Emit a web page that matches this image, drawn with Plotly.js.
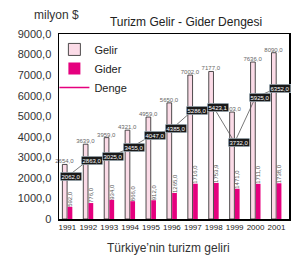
<!DOCTYPE html>
<html><head><meta charset="utf-8">
<script src="https://cdn.plot.ly/plotly-3.0.1.min.js"></script>
<style>html,body{margin:0;padding:0;background:#fff}#c{width:302px;height:266px}</style>
</head><body><div id="c"></div>
<script>
const years = ['1991','1992','1993','1994','1995','1996','1997','1998','1999','2000','2001'];
const gelir = [2654.0,3639.0,3959.0,4321.0,4959.0,5650.0,7002.0,7177.0,5203.0,7636.0,8090.0];
const gider = [592.0,776.0,934.0,866.0,912.0,1265.0,1716.0,1753.9,1471.0,1711.0,1738.0];
const denge = [2062.0,2863.0,3025.0,3455.0,4047.0,4385.0,5286.0,5423.1,3732.0,5925.0,6352.0];
const yTickVals = [0,1000,2000,3000,4000,5000,6000,7000,8000,9000];
const yTickText = ['0','1000,0','2000,0','3000,0','4000,0','5000,0','6000,0','7000,0','8000,0','9000,0'];

const fmt = v => v.toFixed(1).replace('.', ',');
const font = 'Liberation Sans, Arial, sans-serif';

const traces = [
  {type:'bar', name:'Gelir', x:years, y:gelir,
   marker:{color:'#fbdbe7', line:{color:'#222', width:0.8}},
   text:gelir.map(fmt), textposition:'outside', constraintext:'none', cliponaxis:false,
   textfont:{size:6, color:'#666', family:font}},
  {type:'bar', name:'Gider', x:years, y:gider,
   marker:{color:'#e5007e', line:{color:'#222', width:0}},
   text:gider.map(fmt), textposition:'outside', textangle:-90, constraintext:'none', cliponaxis:false,
   textfont:{size:6, color:'#555', family:font}},
  {type:'scatter', mode:'lines', name:'Denge', x:years, y:denge, showlegend:false,
   line:{color:'#555', width:0.8}},
  {type:'scatter', mode:'lines', name:'Denge', x:[null], y:[null],
   line:{color:'#e5007e', width:1.5}}
];

const annotations = denge.map((v,i)=>({
  x:i, y:v, xref:'x', yref:'y', text:fmt(v), showarrow:false,
  xshift:4, font:{size:6, color:'#fff', family:font},
  bgcolor:'#1a1a1a', bordercolor:'#cfe3ef', borderwidth:0.5, borderpad:1
}));
annotations.push(
  {text:'milyon $', xref:'paper', yref:'paper', x:-0.01, y:1.10, xanchor:'center', yanchor:'middle', showarrow:false, font:{size:12, color:'#333', family:font}},
  {text:'Türkiye’nin turizm geliri', xref:'paper', yref:'paper', x:0.474, y:-0.157, xanchor:'center', yanchor:'middle', showarrow:false, font:{size:12, color:'#333', family:font}}
);

const layout = {
  width:302, height:266,
  margin:{l:59, r:13, t:34, b:47},
  paper_bgcolor:'#fff', plot_bgcolor:'#fff',
  font:{family:font, color:'#333'},
  title:{text:'Turizm Gelir - Gider Dengesi', x:0.616, xanchor:'center', y:0.917, yanchor:'middle', font:{size:12, color:'#222', family:font}},
  separators:',.',
  barmode:'group', bargap:0.5, bargroupgap:0.1,
  showlegend:true,
  legend:{x:-0.02, y:0.995, xanchor:'left', yanchor:'top', bgcolor:'rgba(0,0,0,0)', borderwidth:0,
          font:{size:11, color:'#222', family:font}, itemwidth:30, tracegroupgap:0},
  xaxis:{type:'category', range:[-0.4,10.6], showline:true, linecolor:'#000', linewidth:1.5, mirror:true, automargin:false,
         ticks:'', tickangle:0, tickfont:{size:8, color:'#222', family:font}, showgrid:false, zeroline:false},
  yaxis:{range:[0,9000], tickvals:yTickVals, ticktext:yTickText, showline:true, linecolor:'#000', linewidth:1.5, mirror:true, automargin:false,
         ticks:'', tickfont:{size:11, color:'#333', family:font}, showgrid:false, zeroline:false, ticklabelstandoff:4},
  annotations:annotations
};
Plotly.newPlot('c', traces, layout, {staticPlot:true, displayModeBar:false});
</script></body></html>
